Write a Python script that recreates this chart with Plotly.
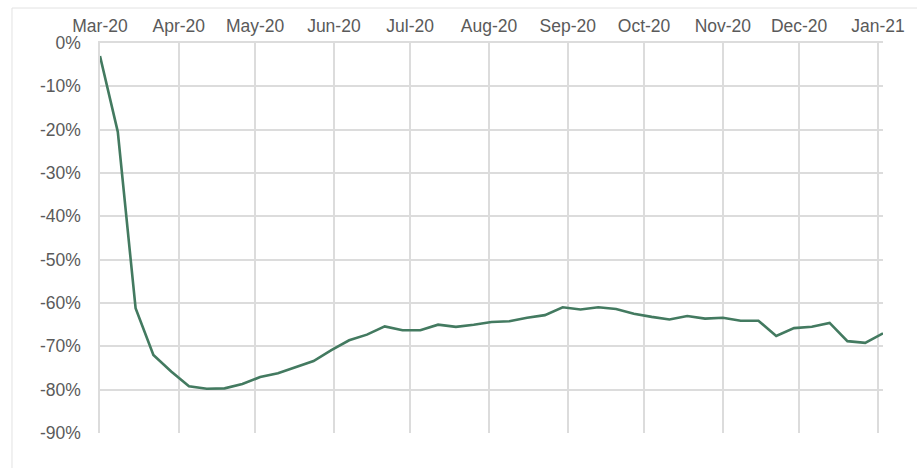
import plotly.graph_objects as go

dates = [
    "2020-03-01", "2020-03-08", "2020-03-15", "2020-03-22", "2020-03-29",
    "2020-04-05", "2020-04-12", "2020-04-19", "2020-04-26",
    "2020-05-03", "2020-05-10", "2020-05-17", "2020-05-24", "2020-05-31",
    "2020-06-07", "2020-06-14", "2020-06-21", "2020-06-28",
    "2020-07-05", "2020-07-12", "2020-07-19", "2020-07-26",
    "2020-08-02", "2020-08-09", "2020-08-16", "2020-08-23", "2020-08-30",
    "2020-09-06", "2020-09-13", "2020-09-20", "2020-09-27",
    "2020-10-04", "2020-10-11", "2020-10-18", "2020-10-25",
    "2020-11-01", "2020-11-08", "2020-11-15", "2020-11-22", "2020-11-29",
    "2020-12-06", "2020-12-13", "2020-12-20", "2020-12-27",
    "2021-01-03",
]

values = [
    -3.0, -20.5, -61.2, -72.0, -75.8,
    -79.2, -79.8, -79.7, -78.7,
    -77.1, -76.2, -74.8, -73.4, -70.9,
    -68.6, -67.3, -65.4, -66.3,
    -66.3, -65.0, -65.5, -65.0,
    -64.4, -64.2, -63.4, -62.8, -61.0,
    -61.5, -61.0, -61.4, -62.5,
    -63.2, -63.8, -63.0, -63.6,
    -63.4, -64.1, -64.1, -67.6, -65.8,
    -65.5, -64.6, -68.8, -69.2,
    -67.0,
]

month_ticks = [
    "2020-03-01", "2020-04-01", "2020-05-01", "2020-06-01", "2020-07-01",
    "2020-08-01", "2020-09-01", "2020-10-01", "2020-11-01", "2020-12-01",
    "2021-01-01",
]
month_labels = [
    "Mar-20", "Apr-20", "May-20", "Jun-20", "Jul-20", "Aug-20",
    "Sep-20", "Oct-20", "Nov-20", "Dec-20", "Jan-21",
]

y_ticks = [0, -10, -20, -30, -40, -50, -60, -70, -80, -90]
y_labels = [f"{v}%" for v in y_ticks]

GRID = "#dcdcdc"

fig = go.Figure()
fig.add_trace(go.Scatter(
    x=dates, y=values, mode="lines",
    line=dict(color="#437a60", width=2.6),
    hoverinfo="skip", showlegend=False,
))

font = dict(family="Liberation Sans, Arial, sans-serif", size=17.5, color="#5a5a5a")

fig.update_layout(
    width=917, height=468,
    margin=dict(l=100, r=34, t=43, b=35),
    paper_bgcolor="white", plot_bgcolor="white",
    font=font,
    xaxis=dict(
        type="date", side="top",
        range=["2020-03-01", "2021-01-03"],
        tickmode="array", tickvals=month_ticks, ticktext=month_labels,
        showgrid=True, gridcolor=GRID, gridwidth=1.5,
        zeroline=False, showline=True, linecolor=GRID, linewidth=1.5,
        ticks="", ticklabelstandoff=2, tickfont=font,
    ),
    yaxis=dict(
        range=[-90, 0],
        tickmode="array", tickvals=y_ticks, ticktext=y_labels,
        showgrid=True, gridcolor=GRID, gridwidth=1.5,
        zeroline=False, showline=True, linecolor=GRID, linewidth=1.5,
        ticks="", ticklabelstandoff=14, tickfont=font,
    ),
    shapes=[
        dict(type="line", xref="paper", yref="paper",
             x0=-0.1124, x1=1.05, y0=1.0897, y1=1.0897,
             line=dict(color="#e2e2e2", width=1)),
        dict(type="line", xref="paper", yref="paper",
             x0=-0.1124, x1=-0.1124, y0=1.0897, y1=-0.1,
             line=dict(color="#e2e2e2", width=1)),
    ],
)

fig.write_html("out.html")
